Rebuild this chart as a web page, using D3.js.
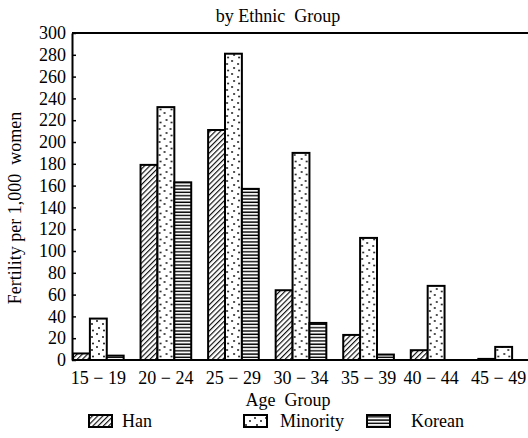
<!DOCTYPE html>
<html>
<head>
<meta charset="utf-8">
<script src="https://cdn.jsdelivr.net/npm/d3@7"></script>
<style>
  body { margin: 0; background: #fff; }
  svg text { font-family: "Liberation Serif", "Times New Roman", Times, serif; fill: #000; }
</style>
</head>
<body>
<svg id="chart"></svg>
<script>
const width = 528;
const height = 438;
const margin = { top: 33, right: 0, bottom: 78, left: 72 };
const serif = "'Liberation Serif', 'Times New Roman', Times, serif";

const ageGroups = ["15－19", "20－24", "25－29", "30－34", "35－39", "40－44", "45－49"];
const ageLabels = ["15 − 19", "20 − 24", "25 − 29", "30 − 34", "35 − 39", "40 − 44", "45 − 49"];
const groups = ["Han", "Minority", "Korean"];
const han = [6, 179, 211, 64, 23, 9, 1];
const minority = [38, 232, 281, 190, 112, 68, 12];
const korean = [4, 163, 157, 34, 5, 0, 0];
const yTicks = d3.range(0, 301, 20);

const table = ageGroups.map((a, i) => ({ age: a, Han: han[i], Minority: minority[i], Korean: korean[i] }));

const svg = d3.select("#chart")
  .attr("width", width)
  .attr("height", height);

// fill patterns
const defs = svg.append("defs");

const hanPat = defs.append("pattern")
  .attr("id", "p-Han")
  .attr("patternUnits", "userSpaceOnUse")
  .attr("width", 3.7).attr("height", 3.7)
  .attr("patternTransform", "rotate(45)");
hanPat.append("rect").attr("width", 3.7).attr("height", 3.7).attr("fill", "#fff");
hanPat.append("line")
  .attr("x1", 0.6).attr("y1", 0).attr("x2", 0.6).attr("y2", 3.7)
  .attr("stroke", "#000").attr("stroke-width", 1.1);

const dotPat = defs.append("pattern")
  .attr("id", "p-Minority")
  .attr("patternUnits", "userSpaceOnUse")
  .attr("width", 11).attr("height", 13);
dotPat.append("rect").attr("width", 11).attr("height", 13).attr("fill", "#fff");
[[2, 2], [8, 5], [4, 9], [9, 11.5]].forEach(p => {
  dotPat.append("circle").attr("cx", p[0]).attr("cy", p[1]).attr("r", 0.9).attr("fill", "#000");
});

const korPat = defs.append("pattern")
  .attr("id", "p-Korean")
  .attr("patternUnits", "userSpaceOnUse")
  .attr("width", 6).attr("height", 3.3);
korPat.append("rect").attr("width", 6).attr("height", 3.3).attr("fill", "#fff");
korPat.append("line")
  .attr("x1", 0).attr("y1", 1).attr("x2", 6).attr("y2", 1)
  .attr("stroke", "#000").attr("stroke-width", 1.4);

const innerW = width - margin.left - margin.right;
const innerH = height - margin.top - margin.bottom;

const x0 = d3.scaleBand()
  .domain(ageGroups)
  .range([1, 457])
  .paddingInner(0.25)
  .paddingOuter(0);

const x1 = d3.scaleBand()
  .domain(groups)
  .range([0, x0.bandwidth()]);

const y = d3.scaleLinear()
  .domain([0, 300])
  .range([innerH, 0]);

const g = svg.append("g")
  .attr("transform", `translate(${margin.left},${margin.top})`);

// bars
const grp = g.selectAll("g.grp")
  .data(table)
  .join("g")
  .attr("class", "grp")
  .attr("transform", d => `translate(${x0(d.age)},0)`);

grp.selectAll("rect")
  .data(d => groups.map(k => ({ key: k, value: d[k] })).filter(d => d.value > 0))
  .join("rect")
  .attr("x", d => x1(d.key))
  .attr("y", d => y(d.value))
  .attr("width", x1.bandwidth())
  .attr("height", d => innerH - y(d.value))
  .attr("fill", d => `url(#p-${d.key})`)
  .attr("stroke", "#000")
  .attr("stroke-width", 2);

// top border
g.append("line")
  .attr("x1", 0).attr("x2", innerW)
  .attr("y1", 0).attr("y2", 0)
  .attr("stroke", "#000").attr("stroke-width", 2);

// y axis
const yAxis = d3.axisLeft(y)
  .tickValues(yTicks)
  .tickSize(-4)
  .tickPadding(6)
  .tickSizeOuter(0);

const yg = g.append("g").call(yAxis).attr("font-family", serif);
yg.select(".domain").attr("stroke-width", 2);
yg.selectAll(".tick line").attr("stroke-width", 1.5);
yg.selectAll("text").attr("font-size", 18);

// x axis
const xAxis = d3.axisBottom(x0)
  .tickSize(0)
  .tickPadding(11)
  .tickFormat((d, i) => ageLabels[i]);

const xg = g.append("g")
  .attr("transform", `translate(0,${innerH})`)
  .call(xAxis)
  .attr("font-family", serif);
xg.select(".domain").attr("d", `M0,0H${innerW}`).attr("stroke-width", 2);
xg.selectAll("text")
  .attr("font-size", 18)
  .attr("dx", (d, i) => i >= 5 ? -5 : 0);

// titles
svg.append("text")
  .attr("x", 278).attr("y", 22)
  .attr("text-anchor", "middle")
  .attr("font-size", 18)
  .attr("xml:space", "preserve")
  .text("by Ethnic  Group");

svg.append("text")
  .attr("x", 288).attr("y", 406)
  .attr("text-anchor", "middle")
  .attr("font-size", 18)
  .attr("xml:space", "preserve")
  .text("Age  Group");

svg.append("text")
  .attr("transform", "translate(21,208) rotate(-90)")
  .attr("text-anchor", "middle")
  .attr("font-size", 18)
  .attr("xml:space", "preserve")
  .text("Fertility per 1,000  women");

// legend
const legendPos = [
  { key: "Han", sx: 89, tx: 122 },
  { key: "Minority", sx: 244, tx: 280 },
  { key: "Korean", sx: 367, tx: 411 }
];

const lg = svg.selectAll("g.legend")
  .data(legendPos)
  .join("g")
  .attr("class", "legend");

lg.append("rect")
  .attr("x", d => d.sx).attr("y", 415)
  .attr("width", 23).attr("height", 12)
  .attr("fill", d => `url(#p-${d.key})`)
  .attr("stroke", "#000")
  .attr("stroke-width", 2);

lg.append("text")
  .attr("x", d => d.tx).attr("y", 427)
  .attr("font-size", 18)
  .text(d => d.key);
</script>
</body>
</html>
